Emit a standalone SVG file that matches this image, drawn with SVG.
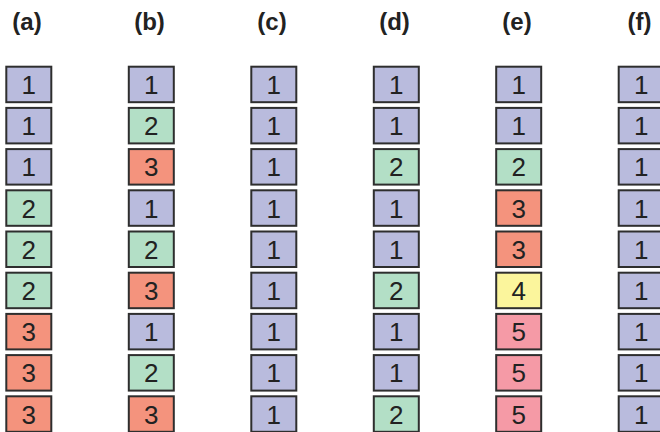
<svg xmlns="http://www.w3.org/2000/svg" width="660" height="432" viewBox="0 0 660 432">
<style>
.b{stroke:#2e2e2e;stroke-width:2}
.c1{fill:#b9bbdd}.c2{fill:#b3dfc6}.c3{fill:#f4937d}.c4{fill:#fbf59c}.c5{fill:#f59aa6}
.n{font-family:"Liberation Sans",Arial,sans-serif;font-size:26px;fill:#222;text-anchor:middle}
.h{font-family:"Liberation Sans",Arial,sans-serif;font-size:24px;font-weight:bold;fill:#222;text-anchor:middle}
</style>
<rect width="660" height="432" fill="#fff"/>
<g id="labels">
<text class="h" x="27" y="30">(a)</text>
<text class="h" x="149.5" y="30">(b)</text>
<text class="h" x="272" y="30">(c)</text>
<text class="h" x="394.5" y="30">(d)</text>
<text class="h" x="517" y="30">(e)</text>
<text class="h" x="639.5" y="30">(f)</text>
</g>
<g id="connectors"/>
<!-- column a -->
<g id="a1"><rect class="b c1" x="6.3" y="66.7" width="45" height="35.5"/><text class="n" x="28.8" y="94">1</text></g>
<g id="a2"><rect class="b c1" x="6.3" y="107.9" width="45" height="35.5"/><text class="n" x="28.8" y="135.2">1</text></g>
<g id="a3"><rect class="b c1" x="6.3" y="149.1" width="45" height="35.5"/><text class="n" x="28.8" y="176.4">1</text></g>
<g id="a4"><rect class="b c2" x="6.3" y="190.3" width="45" height="35.5"/><text class="n" x="28.8" y="217.6">2</text></g>
<g id="a5"><rect class="b c2" x="6.3" y="231.5" width="45" height="35.5"/><text class="n" x="28.8" y="258.8">2</text></g>
<g id="a6"><rect class="b c2" x="6.3" y="272.7" width="45" height="35.5"/><text class="n" x="28.8" y="300">2</text></g>
<g id="a7"><rect class="b c3" x="6.3" y="313.9" width="45" height="35.5"/><text class="n" x="28.8" y="341.2">3</text></g>
<g id="a8"><rect class="b c3" x="6.3" y="355.1" width="45" height="35.5"/><text class="n" x="28.8" y="382.4">3</text></g>
<g id="a9"><rect class="b c3" x="6.3" y="396.3" width="45" height="35.5"/><text class="n" x="28.8" y="423.6">3</text></g>
<!-- column b -->
<g id="b1"><rect class="b c1" x="128.8" y="66.7" width="45" height="35.5"/><text class="n" x="151.3" y="94">1</text></g>
<g id="b2"><rect class="b c2" x="128.8" y="107.9" width="45" height="35.5"/><text class="n" x="151.3" y="135.2">2</text></g>
<g id="b3"><rect class="b c3" x="128.8" y="149.1" width="45" height="35.5"/><text class="n" x="151.3" y="176.4">3</text></g>
<g id="b4"><rect class="b c1" x="128.8" y="190.3" width="45" height="35.5"/><text class="n" x="151.3" y="217.6">1</text></g>
<g id="b5"><rect class="b c2" x="128.8" y="231.5" width="45" height="35.5"/><text class="n" x="151.3" y="258.8">2</text></g>
<g id="b6"><rect class="b c3" x="128.8" y="272.7" width="45" height="35.5"/><text class="n" x="151.3" y="300">3</text></g>
<g id="b7"><rect class="b c1" x="128.8" y="313.9" width="45" height="35.5"/><text class="n" x="151.3" y="341.2">1</text></g>
<g id="b8"><rect class="b c2" x="128.8" y="355.1" width="45" height="35.5"/><text class="n" x="151.3" y="382.4">2</text></g>
<g id="b9"><rect class="b c3" x="128.8" y="396.3" width="45" height="35.5"/><text class="n" x="151.3" y="423.6">3</text></g>
<!-- column c -->
<g id="c1"><rect class="b c1" x="251.3" y="66.7" width="45" height="35.5"/><text class="n" x="273.8" y="94">1</text></g>
<g id="c2"><rect class="b c1" x="251.3" y="107.9" width="45" height="35.5"/><text class="n" x="273.8" y="135.2">1</text></g>
<g id="c3"><rect class="b c1" x="251.3" y="149.1" width="45" height="35.5"/><text class="n" x="273.8" y="176.4">1</text></g>
<g id="c4"><rect class="b c1" x="251.3" y="190.3" width="45" height="35.5"/><text class="n" x="273.8" y="217.6">1</text></g>
<g id="c5"><rect class="b c1" x="251.3" y="231.5" width="45" height="35.5"/><text class="n" x="273.8" y="258.8">1</text></g>
<g id="c6"><rect class="b c1" x="251.3" y="272.7" width="45" height="35.5"/><text class="n" x="273.8" y="300">1</text></g>
<g id="c7"><rect class="b c1" x="251.3" y="313.9" width="45" height="35.5"/><text class="n" x="273.8" y="341.2">1</text></g>
<g id="c8"><rect class="b c1" x="251.3" y="355.1" width="45" height="35.5"/><text class="n" x="273.8" y="382.4">1</text></g>
<g id="c9"><rect class="b c1" x="251.3" y="396.3" width="45" height="35.5"/><text class="n" x="273.8" y="423.6">1</text></g>
<!-- column d -->
<g id="d1"><rect class="b c1" x="373.8" y="66.7" width="45" height="35.5"/><text class="n" x="396.3" y="94">1</text></g>
<g id="d2"><rect class="b c1" x="373.8" y="107.9" width="45" height="35.5"/><text class="n" x="396.3" y="135.2">1</text></g>
<g id="d3"><rect class="b c2" x="373.8" y="149.1" width="45" height="35.5"/><text class="n" x="396.3" y="176.4">2</text></g>
<g id="d4"><rect class="b c1" x="373.8" y="190.3" width="45" height="35.5"/><text class="n" x="396.3" y="217.6">1</text></g>
<g id="d5"><rect class="b c1" x="373.8" y="231.5" width="45" height="35.5"/><text class="n" x="396.3" y="258.8">1</text></g>
<g id="d6"><rect class="b c2" x="373.8" y="272.7" width="45" height="35.5"/><text class="n" x="396.3" y="300">2</text></g>
<g id="d7"><rect class="b c1" x="373.8" y="313.9" width="45" height="35.5"/><text class="n" x="396.3" y="341.2">1</text></g>
<g id="d8"><rect class="b c1" x="373.8" y="355.1" width="45" height="35.5"/><text class="n" x="396.3" y="382.4">1</text></g>
<g id="d9"><rect class="b c2" x="373.8" y="396.3" width="45" height="35.5"/><text class="n" x="396.3" y="423.6">2</text></g>
<!-- column e -->
<g id="e1"><rect class="b c1" x="496.2" y="66.7" width="45" height="35.5"/><text class="n" x="518.7" y="94">1</text></g>
<g id="e2"><rect class="b c1" x="496.2" y="107.9" width="45" height="35.5"/><text class="n" x="518.7" y="135.2">1</text></g>
<g id="e3"><rect class="b c2" x="496.2" y="149.1" width="45" height="35.5"/><text class="n" x="518.7" y="176.4">2</text></g>
<g id="e4"><rect class="b c3" x="496.2" y="190.3" width="45" height="35.5"/><text class="n" x="518.7" y="217.6">3</text></g>
<g id="e5"><rect class="b c3" x="496.2" y="231.5" width="45" height="35.5"/><text class="n" x="518.7" y="258.8">3</text></g>
<g id="e6"><rect class="b c4" x="496.2" y="272.7" width="45" height="35.5"/><text class="n" x="518.7" y="300">4</text></g>
<g id="e7"><rect class="b c5" x="496.2" y="313.9" width="45" height="35.5"/><text class="n" x="518.7" y="341.2">5</text></g>
<g id="e8"><rect class="b c5" x="496.2" y="355.1" width="45" height="35.5"/><text class="n" x="518.7" y="382.4">5</text></g>
<g id="e9"><rect class="b c5" x="496.2" y="396.3" width="45" height="35.5"/><text class="n" x="518.7" y="423.6">5</text></g>
<!-- column f -->
<g id="f1"><rect class="b c1" x="618.7" y="66.7" width="45" height="35.5"/><text class="n" x="641.2" y="94">1</text></g>
<g id="f2"><rect class="b c1" x="618.7" y="107.9" width="45" height="35.5"/><text class="n" x="641.2" y="135.2">1</text></g>
<g id="f3"><rect class="b c1" x="618.7" y="149.1" width="45" height="35.5"/><text class="n" x="641.2" y="176.4">1</text></g>
<g id="f4"><rect class="b c1" x="618.7" y="190.3" width="45" height="35.5"/><text class="n" x="641.2" y="217.6">1</text></g>
<g id="f5"><rect class="b c1" x="618.7" y="231.5" width="45" height="35.5"/><text class="n" x="641.2" y="258.8">1</text></g>
<g id="f6"><rect class="b c1" x="618.7" y="272.7" width="45" height="35.5"/><text class="n" x="641.2" y="300">1</text></g>
<g id="f7"><rect class="b c1" x="618.7" y="313.9" width="45" height="35.5"/><text class="n" x="641.2" y="341.2">1</text></g>
<g id="f8"><rect class="b c1" x="618.7" y="355.1" width="45" height="35.5"/><text class="n" x="641.2" y="382.4">1</text></g>
<g id="f9"><rect class="b c1" x="618.7" y="396.3" width="45" height="35.5"/><text class="n" x="641.2" y="423.6">1</text></g>
</svg>
